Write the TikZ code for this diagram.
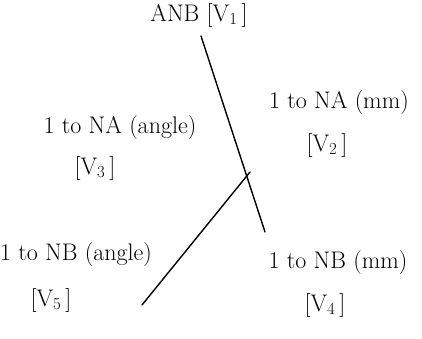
\documentclass[tikz,border=0pt]{standalone}
\usepackage{tikz}
\usetikzlibrary{positioning}

\begin{document}
\begin{tikzpicture}[
    x=1pt, y=-1pt,
    font=\fontsize{24}{29}\selectfont,
    lbl/.style={inner sep=0pt, anchor=center},
    var/.style={inner sep=0pt},
    stroke/.style={line width=1.4pt, line cap=round},
  ]
    \useasboundingbox (0,0) rectangle (422,338);

    % labels
    \node[lbl] (anb)     at (199,15)  {ANB [V\textsubscript{1}\,]};
    \node[lbl] (naangle) at (120,128) {1 to NA (angle)};
    \node[var] (vthree)  at (95,168)  {[V\textsubscript{3}\,]};
    \node[lbl] (namm)    at (339,103) {1 to NA (mm)};
    \node[var] (vtwo)    at (327,145) {[V\textsubscript{2}\,]};
    \node[lbl] (nbangle) at (76,255)  {1 to NB (angle)};
    \node[var] (vfive)   at (51,300)  {[V\textsubscript{5}\,]};
    \node[lbl] (nbmm)    at (338,263) {1 to NB (mm)};
    \node[var] (vfour)   at (325,305) {[V\textsubscript{4}\,]};

    % the two strokes
    \coordinate (natop) at (201,36);
    \coordinate (nabot) at (265,232);
    \coordinate (nbtop) at (250,172);
    \coordinate (nbbot) at (142,305);
    \draw[stroke] (natop) -- (nabot);
    \draw[stroke] (nbtop) -- (nbbot);
\end{tikzpicture}
\end{document}
